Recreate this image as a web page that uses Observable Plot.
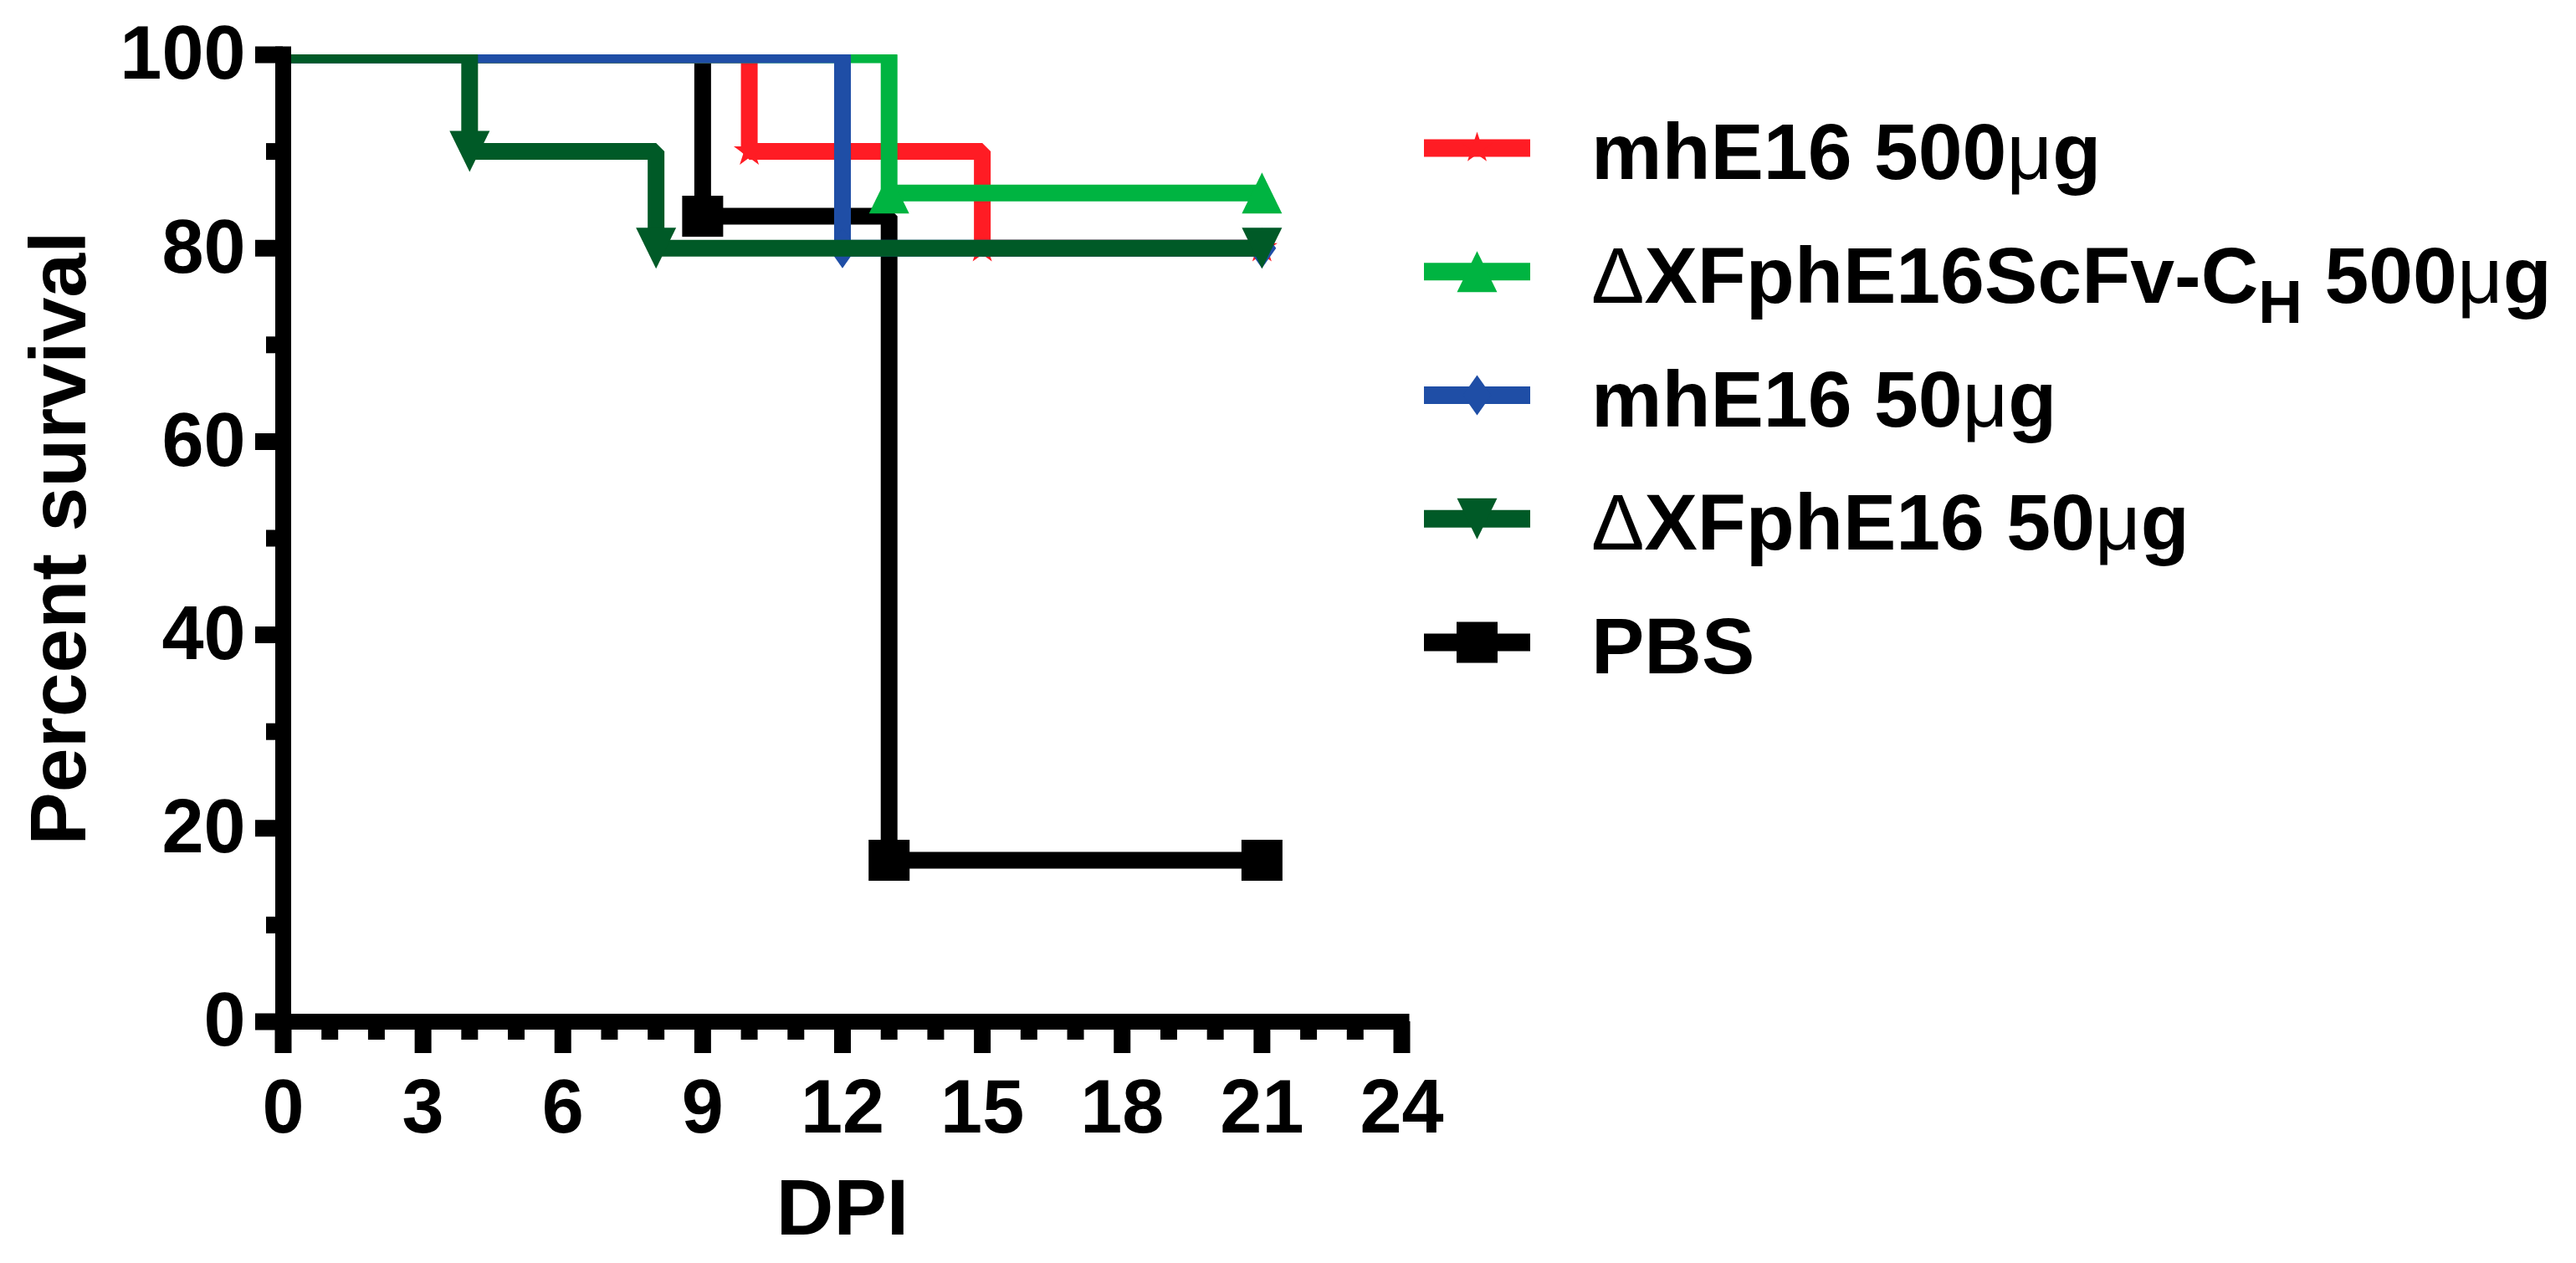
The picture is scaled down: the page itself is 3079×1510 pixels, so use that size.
<!DOCTYPE html>
<html><head><meta charset="utf-8">
<script src="https://cdn.jsdelivr.net/npm/d3@7"></script>
<script src="https://cdn.jsdelivr.net/npm/@observablehq/plot@0.6"></script>
<style>
body{margin:0;background:#fff;}
#wrap{position:relative;width:3079px;height:1510px;overflow:hidden;background:#fff;}
#chart{position:absolute;left:0;top:0;}
#legend{position:absolute;left:1680px;top:100px;font-family:"Liberation Sans",Arial,sans-serif;}
</style></head>
<body><div id="wrap"><div id="chart"></div><svg id="legend" width="1399" height="760"></svg></div>
<script>
// ---- axis ticks & labels ----
const xTicks = [0, 3, 6, 9, 12, 15, 18, 21, 24];
const xMinorTicks = [1, 2, 4, 5, 7, 8, 10, 11, 13, 14, 16, 17, 19, 20, 22, 23];
const yTicks = [0, 20, 40, 60, 80, 100];
const yMinorTicks = [10, 30, 50, 70, 90];
const xTitle = "DPI";
const yTitle = "Percent survival";

// ---- series (legend order) ----
const seriesLabels = ["mhE16 500μg", "ΔXFphE16ScFv-C_H 500μg", "mhE16 50μg", "ΔXFphE16 50μg", "PBS"];
const seriesColors = ["#ff1c24", "#00b441", "#1f4ea6", "#005a27", "#000000"];
const seriesSymbolNames = ["star", "triangle", "diamond", "triangleDown", "square"];

const mhE16_500_days = [0, 10, 15, 21];
const mhE16_500_surv = [100, 90, 80, 80];
const scfv_500_days = [0, 13, 21];
const scfv_500_surv = [100, 85.7, 85.7];
const mhE16_50_days = [0, 12, 21];
const mhE16_50_surv = [100, 80, 80];
const dxf_50_days = [0, 4, 8, 21];
const dxf_50_surv = [100, 90, 80, 80];
const pbs_days = [0, 9, 13, 21];
const pbs_surv = [100, 83.3, 16.7, 16.7];

const seriesDays = [mhE16_500_days, scfv_500_days, mhE16_50_days, dxf_50_days, pbs_days];
const seriesSurv = [mhE16_500_surv, scfv_500_surv, mhE16_50_surv, dxf_50_surv, pbs_surv];
const drawOrder = [4, 0, 1, 2, 3]; // PBS at the bottom, ΔXFphE16 50μg on top

// ---- symbols ----
function polySym(kind, ratio) {
  return {draw(ctx, size) {
    const h = Math.sqrt(size / (2 * ratio)), w = h * ratio;
    if (kind === "up") { ctx.moveTo(0, -h); ctx.lineTo(w, h); ctx.lineTo(-w, h); }
    else if (kind === "down") { ctx.moveTo(0, h); ctx.lineTo(w, -h); ctx.lineTo(-w, -h); }
    else { ctx.moveTo(0, -h); ctx.lineTo(w, 0); ctx.lineTo(0, h); ctx.lineTo(-w, 0); }
    ctx.closePath();
  }};
}
const symbols = {
  star: {sym: d3.symbolStar, r: 11.7},
  triangle: {sym: polySym("up", 0.98), r: 19.35},
  triangleDown: {sym: polySym("down", 0.98), r: 19.35},
  diamond: {sym: polySym("diamond", 0.7), r: 16.1},
  square: {sym: d3.symbolSquare, r: 27.65}
};

const FONT = '"Liberation Sans", Arial, sans-serif';

const marks = [];
for (const i of drawOrder) {
  const data = seriesDays[i].map((d, k) => ({day: d, surv: seriesSurv[i][k]}));
  const s = symbols[seriesSymbolNames[i]];
  marks.push(Plot.line(data, {x: "day", y: "surv", curve: "step-after", stroke: seriesColors[i],
    strokeWidth: 20, strokeLinejoin: "miter", strokeLinecap: "butt", clip: true}));
  marks.push(Plot.dot(data.slice(1), {x: "day", y: "surv", symbol: s.sym, r: s.r,
    fill: seriesColors[i], stroke: "none"}));
}

marks.push(
  Plot.ruleY([0], {x1: 0, x2: 24, stroke: "#000", strokeWidth: 19, strokeLinecap: "square"}),
  Plot.ruleX([0], {y1: 0, y2: 100, stroke: "#000", strokeWidth: 19, strokeLinecap: "square"}),
  Plot.axisX(xTicks, {anchor: "bottom", tickSize: 38, tickPadding: 31, strokeWidth: 20,
    fontSize: 90, fontWeight: "bold", label: null, tickFormat: d => String(d)}),
  Plot.axisX(xMinorTicks, {anchor: "bottom", tickSize: 22, strokeWidth: 20, label: null, tickFormat: () => ""}),
  Plot.axisY(yTicks, {anchor: "left", tickSize: 33, tickPadding: 12, strokeWidth: 20,
    fontSize: 90, fontWeight: "bold", label: null, tickFormat: d => String(d)}),
  Plot.axisY(yMinorTicks, {anchor: "left", tickSize: 20, strokeWidth: 20, label: null, tickFormat: () => ""}),
  Plot.text([xTitle], {text: d => d, frameAnchor: "bottom", textAnchor: "middle", lineAnchor: "middle",
    dy: 224, fontSize: 95, fontWeight: "bold", fill: "#000"}),
  Plot.text([yTitle], {text: d => d, frameAnchor: "left", textAnchor: "middle", lineAnchor: "middle",
    rotate: -90, dx: -267, fontSize: 95, fontWeight: "bold", fill: "#000"})
);

const chart = Plot.plot({
  width: 1760, height: 1510,
  marginLeft: 338, marginRight: 85, marginTop: 65, marginBottom: 289,
  x: {domain: [0, 24]},
  y: {domain: [0, 100]},
  style: {fontFamily: FONT, fontWeight: "bold", fontSize: "90px", background: "#fff", color: "#000", overflow: "visible"},
  marks
});
document.getElementById("chart").appendChild(chart);

// ---- legend ----
const lg = d3.select("#legend");
const rowStep = 147.75, rowTop = 77;
seriesLabels.forEach((label, i) => {
  const cy = rowTop + i * rowStep;
  const g = lg.append("g");
  g.append("line").attr("x1", 22).attr("x2", 149).attr("y1", cy).attr("y2", cy)
    .attr("stroke", seriesColors[i]).attr("stroke-width", 21);
  const s = symbols[seriesSymbolNames[i]];
  g.append("path").attr("transform", `translate(85.5,${cy})`)
    .attr("d", d3.symbol(s.sym, Math.PI * s.r * s.r)()).attr("fill", seriesColors[i]);
  const t = g.append("text").attr("x", 222).attr("y", cy + 37)
    .attr("font-size", 95).attr("font-weight", "bold").attr("fill", "#000");
  const parts = label.split(/(Δ|μ|_H)/).filter(p => p !== "");
  let shifted = false;
  for (const p of parts) {
    if (p === "_H") {
      t.append("tspan").attr("font-size", 73).attr("dy", 24).text("H");
      shifted = true;
    } else {
      const ts = t.append("tspan").text(p);
      if (shifted) { ts.attr("dy", -24); shifted = false; }
      if (p === "Δ" || p === "μ") ts.attr("font-weight", "normal");
    }
  }
});
</script>
</body></html>
